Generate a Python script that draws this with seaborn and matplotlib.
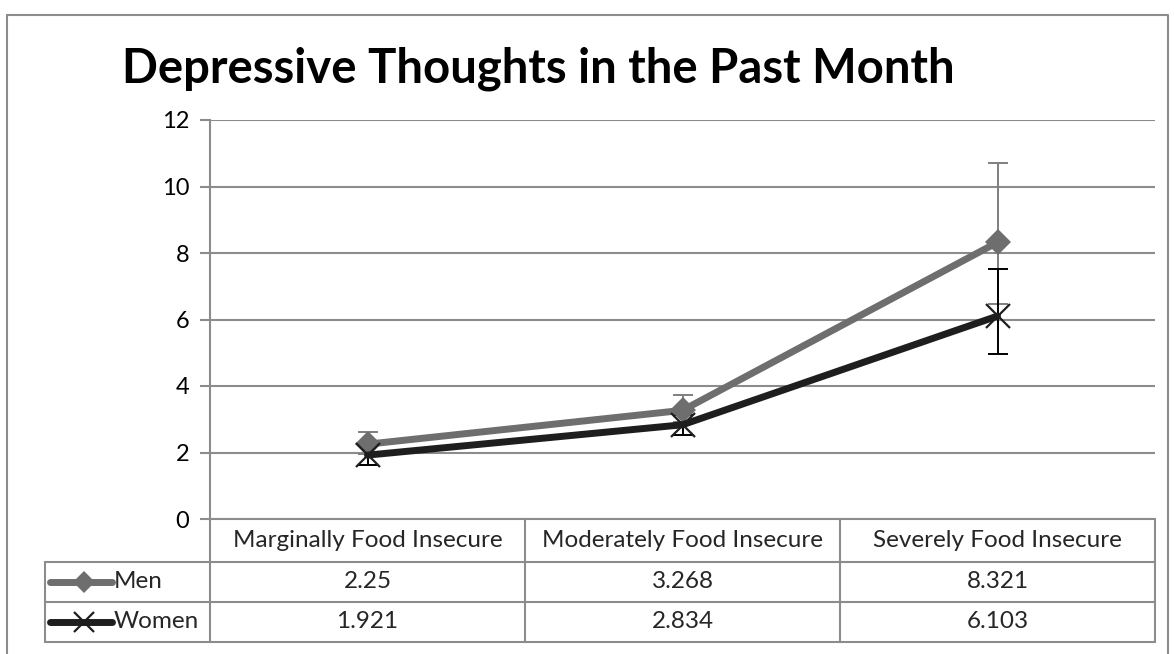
import numpy as np
import pandas as pd
import seaborn as sns
import matplotlib.pyplot as plt

categories = ["Marginally Food Insecure", "Moderately Food Insecure", "Severely Food Insecure"]
series     = ["Men", "Women"]
men        = [2.25, 3.268, 8.321]
women      = [1.921, 2.834, 6.103]
men_lo     = [0.30, 0.35, 1.85]
men_hi     = [0.37, 0.46, 2.38]
women_lo   = [0.30, 0.31, 1.14]
women_hi   = [0.35, 0.30, 1.42]
men_lbl    = ["2.25", "3.268", "8.321"]
women_lbl  = ["1.921", "2.834", "6.103"]
yticks     = [0, 2, 4, 6, 8, 10, 12]

sns.set_theme(style="white")
plt.rcParams["font.family"] = ["Lato", "DejaVu Sans"]

W, H = 1174, 654
fig = plt.figure(figsize=(W / 100, H / 100), dpi=100)

# plot area in pixels
L, R, T, B = 210, 1155, 120, 519
ax = fig.add_axes([L / W, 1 - B / H, (R - L) / W, (B - T) / H])

pos = np.arange(len(categories))
styles = {
    "Men":   dict(color="#6e6e6e", marker="D", ms=13, mew=0, vals=men, lo=men_lo, hi=men_hi, ecol="#7f7f7f"),
    "Women": dict(color="#1e1e1e", marker="x", ms=17, mew=1.6, vals=women, lo=women_lo, hi=women_hi, ecol="#000000"),
}

for name in series:
    s = styles[name]
    ax.errorbar(pos, s["vals"], yerr=[s["lo"], s["hi"]], fmt="none",
                ecolor=s["ecol"], elinewidth=1.4, capsize=7, capthick=1.4, zorder=2)
    sns.lineplot(x=pos, y=s["vals"], ax=ax, color=s["color"], lw=5,
                 marker=s["marker"], ms=s["ms"], mew=s["mew"], mec=s["color"], zorder=3)

ax.set_xlim(-0.5, len(categories) - 0.5)
ax.set_ylim(0, 12)
ax.set_yticks(yticks)
ax.set_yticklabels([str(t) for t in yticks], fontsize=17)
ax.set_xticks([])
ax.yaxis.grid(True, color="#8c8c8c", lw=1.5)
ax.xaxis.grid(False)
for sp in ["top", "right", "bottom"]:
    ax.spines[sp].set_visible(False)
ax.spines["left"].set_color("#8c8c8c")
ax.spines["left"].set_linewidth(1.5)
ax.tick_params(axis="y", left=True, length=7, width=1.5, color="#8c8c8c", pad=8, labelcolor="black")

# overlay for title, border and data table (pixel coordinates)
ov = fig.add_axes([0, 0, 1, 1], facecolor="none")
ov.set_xlim(0, W)
ov.set_ylim(H, 0)
ov.axis("off")

ov.plot([7, 1168, 1168, 7, 7], [15, 15, 660, 660, 15], color="#8c8c8c", lw=1.5, clip_on=False)
ov.text(538, 69, "Depressive Thoughts in the Past Month", ha="center", va="center",
        fontsize=34, fontweight="bold", color="black")

rows_y = [519, 562, 602, 642]
col_w = (R - L) / len(categories)
tc = "#8c8c8c"
# horizontal lines
ov.plot([L, R], [rows_y[0], rows_y[0]], color=tc, lw=1.5)
for y in rows_y[1:]:
    ov.plot([45, R], [y, y], color=tc, lw=1.5)
# vertical lines
for i in range(len(categories) + 1):
    x = L + i * col_w
    ov.plot([x, x], [rows_y[0], rows_y[-1]], color=tc, lw=1.5)
ov.plot([45, 45], [rows_y[1], rows_y[-1]], color=tc, lw=1.5)

fs = 17.5
for i, c in enumerate(categories):
    cx = L + (i + 0.5) * col_w
    ov.text(cx, (rows_y[0] + rows_y[1]) / 2, c, ha="center", va="center", fontsize=fs)
    ov.text(cx, (rows_y[1] + rows_y[2]) / 2, men_lbl[i], ha="center", va="center", fontsize=fs)
    ov.text(cx, (rows_y[2] + rows_y[3]) / 2, women_lbl[i], ha="center", va="center", fontsize=fs)

for k, name in enumerate(series):
    s = styles[name]
    cy = (rows_y[k + 1] + rows_y[k + 2]) / 2
    ov.plot([50, 112], [cy, cy], color=s["color"], lw=5)
    ov.plot([84], [cy], marker=s["marker"], ms=s["ms"] * 0.85, mew=s["mew"], color=s["color"], mec=s["color"])
    ov.text(114, cy, name, ha="left", va="center", fontsize=fs)

fig.savefig("out.png", dpi=100)
